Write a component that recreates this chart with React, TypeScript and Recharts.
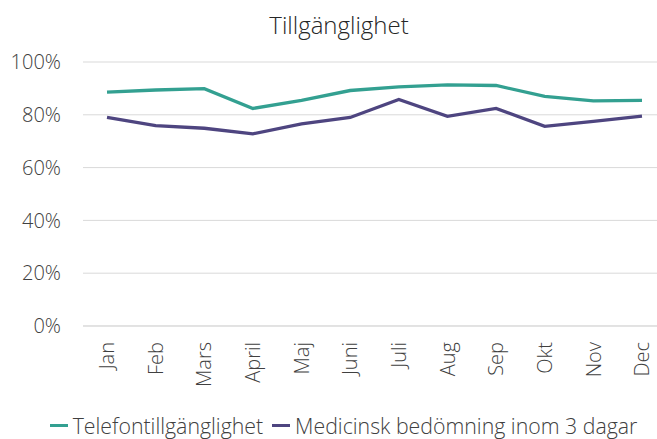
import { CartesianGrid, Legend, Line, LineChart, XAxis, YAxis } from "recharts";

const months = ["Jan", "Feb", "Mars", "April", "Maj", "Juni", "Juli", "Aug", "Sep", "Okt", "Nov", "Dec"];
const telefon = [88.6, 89.4, 89.9, 82.4, 85.5, 89.2, 90.6, 91.3, 91.1, 87.0, 85.3, 85.5];
const medicinsk = [79.0, 75.9, 74.9, 72.8, 76.6, 79.0, 85.8, 79.4, 82.4, 75.6, 77.5, 79.5];
const yTicks = [0, 20, 40, 60, 80, 100];

const TEAL = "#33a091";
const PURPLE = "#4e4580";
const FONT = "'Open Sans', 'Noto Sans', sans-serif";
const TEXT = "#404040";

const data = months.map((m, i) => ({ month: m, tele: telefon[i], med: medicinsk[i] }));

const MonthTick = ({ x, y, payload }: any) => {
  const ty = y + 16;
  return (
    <text
      x={x}
      y={ty}
      transform={`rotate(-90, ${x}, ${ty})`}
      textAnchor="end"
      dy="0.36em"
      fill={TEXT}
      fontSize={20}
      fontWeight={300}
      fontFamily={FONT}
    >
      {payload.value}
    </text>
  );
};

const legendItems = [
  { label: "Telefontillgänglighet", color: TEAL },
  { label: "Medicinsk bedömning inom 3 dagar", color: PURPLE },
];

const LegendContent = () => (
  <div style={{ display: "flex", justifyContent: "center", alignItems: "center", gap: 9 }}>
    {legendItems.map((it) => (
      <div key={it.label} style={{ display: "flex", alignItems: "center", gap: 5 }}>
        <span style={{ display: "inline-block", width: 18, height: 3, background: it.color }} />
        <span style={{ fontFamily: FONT, fontSize: 21.3, fontWeight: 300, color: TEXT, whiteSpace: "nowrap" }}>{it.label}</span>
      </div>
    ))}
  </div>
);

export default function App() {
  return (
    <div style={{ position: "absolute", left: 0, top: 0, width: 657, height: 439, overflow: "hidden", background: "#fff" }}>
      <div
        style={{
          position: "absolute",
          left: 0,
          width: 678,
          top: 8,
          textAlign: "center",
          fontFamily: FONT,
          fontSize: 24,
          fontWeight: 300,
          color: "#262626",
          zIndex: 1,
        }}
      >
        Tillgänglighet
      </div>
      <LineChart width={680} height={439} data={data} margin={{ top: 62, right: 14, bottom: 0, left: 0 }}>
        <CartesianGrid vertical={false} stroke="#d9d9d9" />
        <XAxis
          dataKey="month"
          interval={0}
          height={113}
          padding={{ left: 24, right: 24 }}
          tickLine={false}
          tickSize={0}
          tickMargin={0}
          axisLine={{ stroke: "#d9d9d9" }}
          tick={<MonthTick />}
        />
        <YAxis
          width={83}
          domain={[0, 100]}
          ticks={yTicks}
          tickFormatter={(v) => `${v}%`}
          axisLine={false}
          tickLine={false}
          tickSize={0}
          tickMargin={22}
          tick={{ fill: TEXT, fontSize: 20, fontWeight: 300, fontFamily: FONT }}
        />
        <Legend
          verticalAlign="middle"
          align="center"
          content={<LegendContent />}
          wrapperStyle={{ top: 411, left: 0, width: 687 }}
        />
        <Line type="linear" dataKey="tele" name="Telefontillgänglighet" stroke={TEAL} strokeWidth={3.3} dot={false} isAnimationActive={false} />
        <Line type="linear" dataKey="med" name="Medicinsk bedömning inom 3 dagar" stroke={PURPLE} strokeWidth={3.3} dot={false} isAnimationActive={false} />
      </LineChart>
    </div>
  );
}
